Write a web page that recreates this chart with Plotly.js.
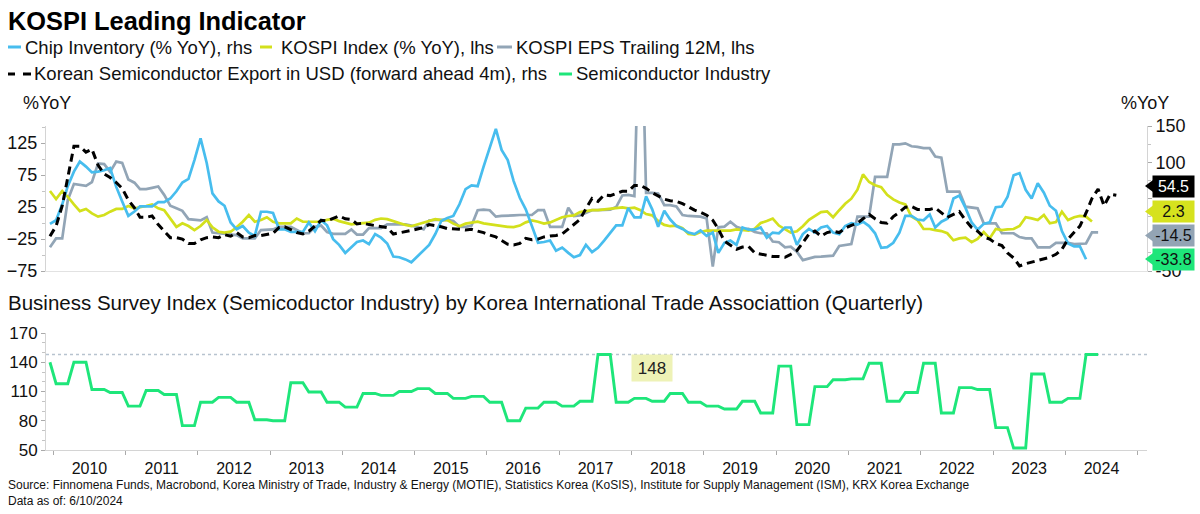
<!DOCTYPE html>
<html><head><meta charset="utf-8">
<script src="https://cdn.plot.ly/plotly-3.0.1.min.js"></script>
<style>html,body{margin:0;padding:0;background:#fff;} #chart{width:1200px;height:514px;}</style>
</head><body><div id="chart"></div>
<script>
// ---- data (monthly, first point Dec 2009) ----
const startYear = 2009, startMonth = 12;
const chipInventory = [15,20,42,67,87,101,94,86,87,89,92,66,
 46,26,32,39,39,39,45,45,50,60,72,77,
 103,133,99,57,46,40,17,7.5,12,3,-1.6,31.7,
 31.7,30,7.5,7.5,4,4,4,17,5,20,13,-6,
 -14,-25,-17.6,-10,-8,-13,1,-4,-12,-30,-31,-34,
 -38,-30,-22,-14,1,19,23,26,42,63,68,67,
 94,119.6,146,117,103,74,51,35,12,-11,-10,-8,
 -22,-17.6,-25,-31,-28,-14,-24,-18,-8,3,13,13,
 37,24,24,53,35,11,33,21,12,8,3,1,
 6,-1.6,3,-25,-11,-8,-14,10,7,7,10,-4,
 3,2,10,10,-14,1,8,3,10,12,3,0.7,
 12,16,14,18,12,2,-18,-17,-11,3,26,26,
 21,20,28,10,18,22,50,54,37,17,7,15,
 17,38,39,52,82,85,62,50,71,58,40,33,
 5,-12,-16,-16,-33.8];
const kospiIndex = [50,37.5,50,41,29,18.6,22,15,10,12.5,17.7,22,
 22,26.6,23,24.5,26.6,29,23,20,7,-6,-0.5,-4.7,
 -11,-4.7,4.7,-6.7,-13.6,-15,-13.6,-6.7,2,12.5,2,4.7,
 9,2,-0.5,-0.5,-0.5,7,2,2,2,2,5,6.5,
 3,0,-2,-1,-0.5,0.5,5,7,6,3,-1,-3,
 -5,-2,0,3,6,4.5,4.5,-1,-5,-1,0.5,2,
 -0.5,-2,-4,-5.5,-6,-6.5,-4,1,4,2,-1,1,
 5,9,11,12,17,19,20,20,21,21.5,23,24.5,
 23,24,20,14,12,3,-3,-5,-4,-8,-17,-18,
 -14,-12,-12,-12,-11,-12,-10,-11,-12,-9,0,3,
 7,-4,-9,-15,-13,-5,5,11,17,18,9,20,
 30,38,52,76,64,59,56,44,37,32,29,10,
 4.7,-9.4,-9.4,-11,-12.6,-16,-27,-24,-23,-30,-25,-14,
 -24,-9.4,-11,-10,-9.4,-4.6,9,7.3,4.7,12.5,-0.5,1.5,
 17.7,4.7,8.9,11,10,2.3];
const kospiEps = [-38,-24,-24,36,61,59,58,64,93,92,80,96,
 94,68,63,53,53,55,57,44,27,23,19,6,
 5,4,9,-15,-16,-17,-17,-19,-24,-24,-24,-11,
 -10,-10,-6,-6,-6,-11,-16,-16,-6,-4,-14,-17,
 -17,-17,-10,-18,-18,-8,-8,-8,-2,-2,-2,-2,
 -4,-6,-10,4,5,5.5,5,3,-6,-6,-4,20,
 21,20,10,11,12,12,12.5,12.5,12.5,20,20,-6,
 -6,-6,24,11,12,16,20,20,21,21,25,43,
 44,42,400,47,47,46,28,28,26,12.5,11,10.5,
 10,7,-68,-6.7,-5.7,2,-6,-9,-9,-14,-16,-16,
 -29,-30,-38,-37,-45,-58,-55,-53,-52.5,-52,-51,-36,
 -34,-33,10,10,10,72,72,72,123,123,124.5,120,
 119,117,117,104,102,49,49,49,25.5,24,23,-0.5,
 -0.5,-0.5,-16,-16,-16,-22,-24,-24,-38,-38,-38,-31,
 -31,-31,-33,-33,-32,-14.5,-14.5];
const semiExport = [-2,12,40,80,122,122,114,118,96,84,79,72,
 64,48,37,24,24,26,14,5,-4,-4,-6,-12,
 -12,-7,-4,-3,-4,0,-2,3,-3,-4,-1,-1,
 0.5,2,10,11,7,3,1,5,12,20,19,22,
 26,22,21,15,16,14,13,12,10,1,3,5,
 6,8,10,14,13,11,8.5,7.5,7.5,6.6,7.5,5,
 3,-0.5,-3,-8,-13,-14,-12,-5,-7,-6,-3,-1.6,
 -1,1,8,13,21,36,50,46,55,54,57,60,
 60,68,68,64,58,53,49,47,46,43,38,34,
 31,27,20,8,-9,-15,-20,-17,-16,-25,-27,-29,
 -30,-30,-31,-27,-22,-11,1,5,-2,3,5,3,
 9,13,16,22,28,22,17,16,25,31,38,39,
 35,35,35,37,30,24,28,32,20,10,5,-3,
 -6,-12,-15,-25,-32,-43,-40,-38,-36,-33,-31,-27,
 -20,-6,3,12,30,50,63,40,56,54.5];
// Business Survey Index, quarterly: Q4 2009 (shown as Dec 2009), then Q1 2010 .. Q2 2024
const bsiQuarterly = [140,
 118,140,112,109, 95,111,107,75, 99,104,99,81, 80,119,109.5,99,
 94,108,106,110, 113,108,103,105, 99,80,93,99, 95,100,148,99,
 103,100,108,99, 95,92,100,88, 136,76,115,122, 123,139,100,109,
 139,88,114,112, 73,52,128,99, 103,148];
const bsiRef = 148;
const lastLabels = [
  {text:'54.5', bg:'#000000', fg:'#ffffff'},
  {text:'2.3', bg:'#d6e21e', fg:'#111111'},
  {text:'-14.5', bg:'#93a4b4', fg:'#111111'},
  {text:'-33.8', bg:'#1ee67a', fg:'#111111'}
];
const rightTickVals = [-50,0,50,100,150];
const rightTickText = ['-50','','','100','150'];
const yearTickStart = '2010-01-01';

// ---- helpers ----
function monthDate(i){const d=new Date(Date.UTC(startYear,startMonth-1+i,15));return d.toISOString().slice(0,10);}
function dates(n){const a=[];for(let i=0;i<n;i++)a.push(monthDate(i));return a;}
const bsiMonthly=[bsiQuarterly[0]];
for(let q=1;q<bsiQuarterly.length;q++){bsiMonthly.push(bsiQuarterly[q],bsiQuarterly[q],bsiQuarterly[q]);}

const L=46,R=1147,T=126,B=450;
const px2x=px=>(px-L)/(R-L);
const py2y=py=>(B-py)/(B-T);
const FONT='Liberation Sans, Arial, Helvetica, sans-serif';

const C={blue:'#47bdee',yellow:'#d3e01c',gray:'#92a5b6',black:'#000000',green:'#1ee67a'};

const traces=[
 {x:dates(kospiEps.length),y:kospiEps,xaxis:'x2',yaxis:'y2',mode:'lines',line:{color:C.gray,width:2.7},name:'KOSPI EPS Trailing 12M, lhs'},
 {x:dates(kospiIndex.length),y:kospiIndex,xaxis:'x2',yaxis:'y2',mode:'lines',line:{color:C.yellow,width:2.7},name:'KOSPI Index (% YoY), lhs'},
 {x:dates(chipInventory.length),y:chipInventory,xaxis:'x2',yaxis:'y3',mode:'lines',line:{color:C.blue,width:2.7},name:'Chip Inventory (% YoY), rhs'},
 {x:dates(semiExport.length),y:semiExport,xaxis:'x2',yaxis:'y3',mode:'lines',line:{color:C.black,width:3,dash:'8px,5px'},name:'Korean Semiconductor Export in USD (forward ahead 4m), rhs'},
 {x:dates(bsiMonthly.length),y:bsiMonthly,xaxis:'x',yaxis:'y',mode:'lines',line:{color:C.green,width:2.9},name:'Semiconductor Industry'}
];

const xr=['2009-11-25','2025-02-17'];
const axLine='#d4d4d4';
const layout={
 width:1200,height:514,margin:{l:L,r:1200-R,t:T,b:514-B},
 paper_bgcolor:'#fff',plot_bgcolor:'#fff',showlegend:false,
 font:{family:FONT,color:'#111'},
 xaxis:{domain:[0,1],range:xr,anchor:'y',type:'date',showgrid:false,zeroline:false,showline:true,linecolor:axLine,linewidth:1,
   ticks:'outside',ticklen:4,tickcolor:'#aaa',tick0:yearTickStart,dtick:'M12',ticklabelmode:'period',tickformat:'%Y',tickfont:{size:16,color:'#111'}},
 xaxis2:{domain:[0,1],range:xr,anchor:'y2',type:'date',matches:'x',showgrid:false,zeroline:false,showline:true,linecolor:'#e2e2e2',linewidth:1,showticklabels:false,ticks:''},
 yaxis:{domain:[0,py2y(333)],range:[50,170],anchor:'x',showgrid:false,zeroline:false,showline:true,linecolor:axLine,
   ticks:'outside',ticklen:4,tickcolor:'#aaa',tick0:50,dtick:30,tickfont:{size:17,color:'#111'},
   minor:{ticks:'outside',dtick:10,ticklen:3,tickcolor:'#c4c4c4'}},
 yaxis2:{domain:[py2y(271),1],range:[-75,151.6],anchor:'x2',showgrid:false,zeroline:false,showline:true,linecolor:axLine,
   ticks:'outside',ticklen:4,tickcolor:'#aaa',tick0:-75,dtick:50,tickfont:{size:18,color:'#111'},
   minor:{ticks:'outside',dtick:25,ticklen:3,tickcolor:'#c4c4c4'}},
 yaxis3:{overlaying:'y2',side:'right',anchor:'x2',range:[-50,150],showgrid:false,zeroline:false,showline:true,linecolor:axLine,
   ticks:'outside',ticklen:4,tickcolor:'#aaa',tickmode:'array',tickvals:rightTickVals,ticktext:rightTickText,tickfont:{size:18,color:'#111'},
   minor:{ticks:'outside',dtick:25,ticklen:3,tickcolor:'#c4c4c4'}},
 shapes:[],annotations:[]
};

function txt(text,px,py,size,opts){
 layout.annotations.push(Object.assign({text:text,xref:'paper',yref:'paper',x:px2x(px),y:py2y(py),xanchor:'left',yanchor:'middle',
   showarrow:false,font:{family:FONT,size:size,color:'#111'}},opts||{}));
}
function seg(x0,x1,py,color){
 layout.shapes.push({type:'line',xref:'paper',yref:'paper',x0:px2x(x0),x1:px2x(x1),y0:py2y(py),y1:py2y(py),line:{color:color,width:3}});
}

// title
txt('<b>KOSPI Leading Indicator</b>',6,21,25.4,{font:{family:FONT,size:25.4,color:'#000'}});
// legend
seg(8,21,47,C.blue); txt('Chip Inventory (% YoY), rhs',23,47,18.5);
seg(260,272,47,C.yellow); txt('KOSPI Index (% YoY), lhs',279,47,18.5);
seg(497,512,47,C.gray); txt('KOSPI EPS Trailing 12M, lhs',514,47,18.5);
seg(8,15,74,C.black); seg(23,31,74,C.black); txt('Korean Semiconductor Export in USD (forward ahead 4m), rhs',32,74,18.5);
seg(559,572,74,C.green); txt('Semiconductor Industry',574,74,18.5);
// axis titles
txt('%YoY',21,103,18);
txt('%YoY',1119,103,18);
// bottom chart title
txt('Business Survey Index (Semicoductor Industry) by Korea International Trade Associattion (Quarterly)',6,302,20.5);
// reference line at 148
layout.shapes.push({type:'line',xref:'paper',yref:'y',x0:0,x1:1,y0:bsiRef,y1:bsiRef,line:{color:'#b7c3cf',width:1.5,dash:'dot'},layer:'below'});
layout.annotations.push({text:String(bsiRef),xref:'paper',yref:'paper',x:px2x(652),y:py2y(368),xanchor:'center',yanchor:'middle',showarrow:false,
  bgcolor:'#eef2b6',borderpad:3,width:34,height:20,font:{family:FONT,size:17,color:'#222'}});
// last value labels on right
const labelCenters=[186,211.5,235.5,259];
lastLabels.forEach((lb,i)=>{
 const cy=labelCenters[i];
 layout.annotations.push({text:lb.text,xref:'paper',yref:'paper',x:px2x(1152),y:py2y(cy),xanchor:'left',yanchor:'middle',showarrow:false,
   bgcolor:lb.bg,borderpad:0,width:41,height:21,align:'center',font:{family:FONT,size:16,color:lb.fg}});
 layout.shapes.push({type:'path',xref:'paper',yref:'paper',layer:'above',line:{width:0},fillcolor:lb.bg,
   path:'M '+px2x(1145)+','+py2y(cy)+' L '+px2x(1153)+','+py2y(cy-6)+' L '+px2x(1153)+','+py2y(cy+6)+' Z'});
});
// source
txt('Source: Finnomena Funds, Macrobond, Korea Ministry of Trade, Industry &amp; Energy (MOTIE), Statistics Korea (KoSIS), Institute for Supply Management (ISM), KRX Korea Exchange',6,485,12);
txt('Data as of: 6/10/2024',6,501,12);

Plotly.newPlot('chart',traces,layout,{staticPlot:true,displayModeBar:false});
</script></body></html>
